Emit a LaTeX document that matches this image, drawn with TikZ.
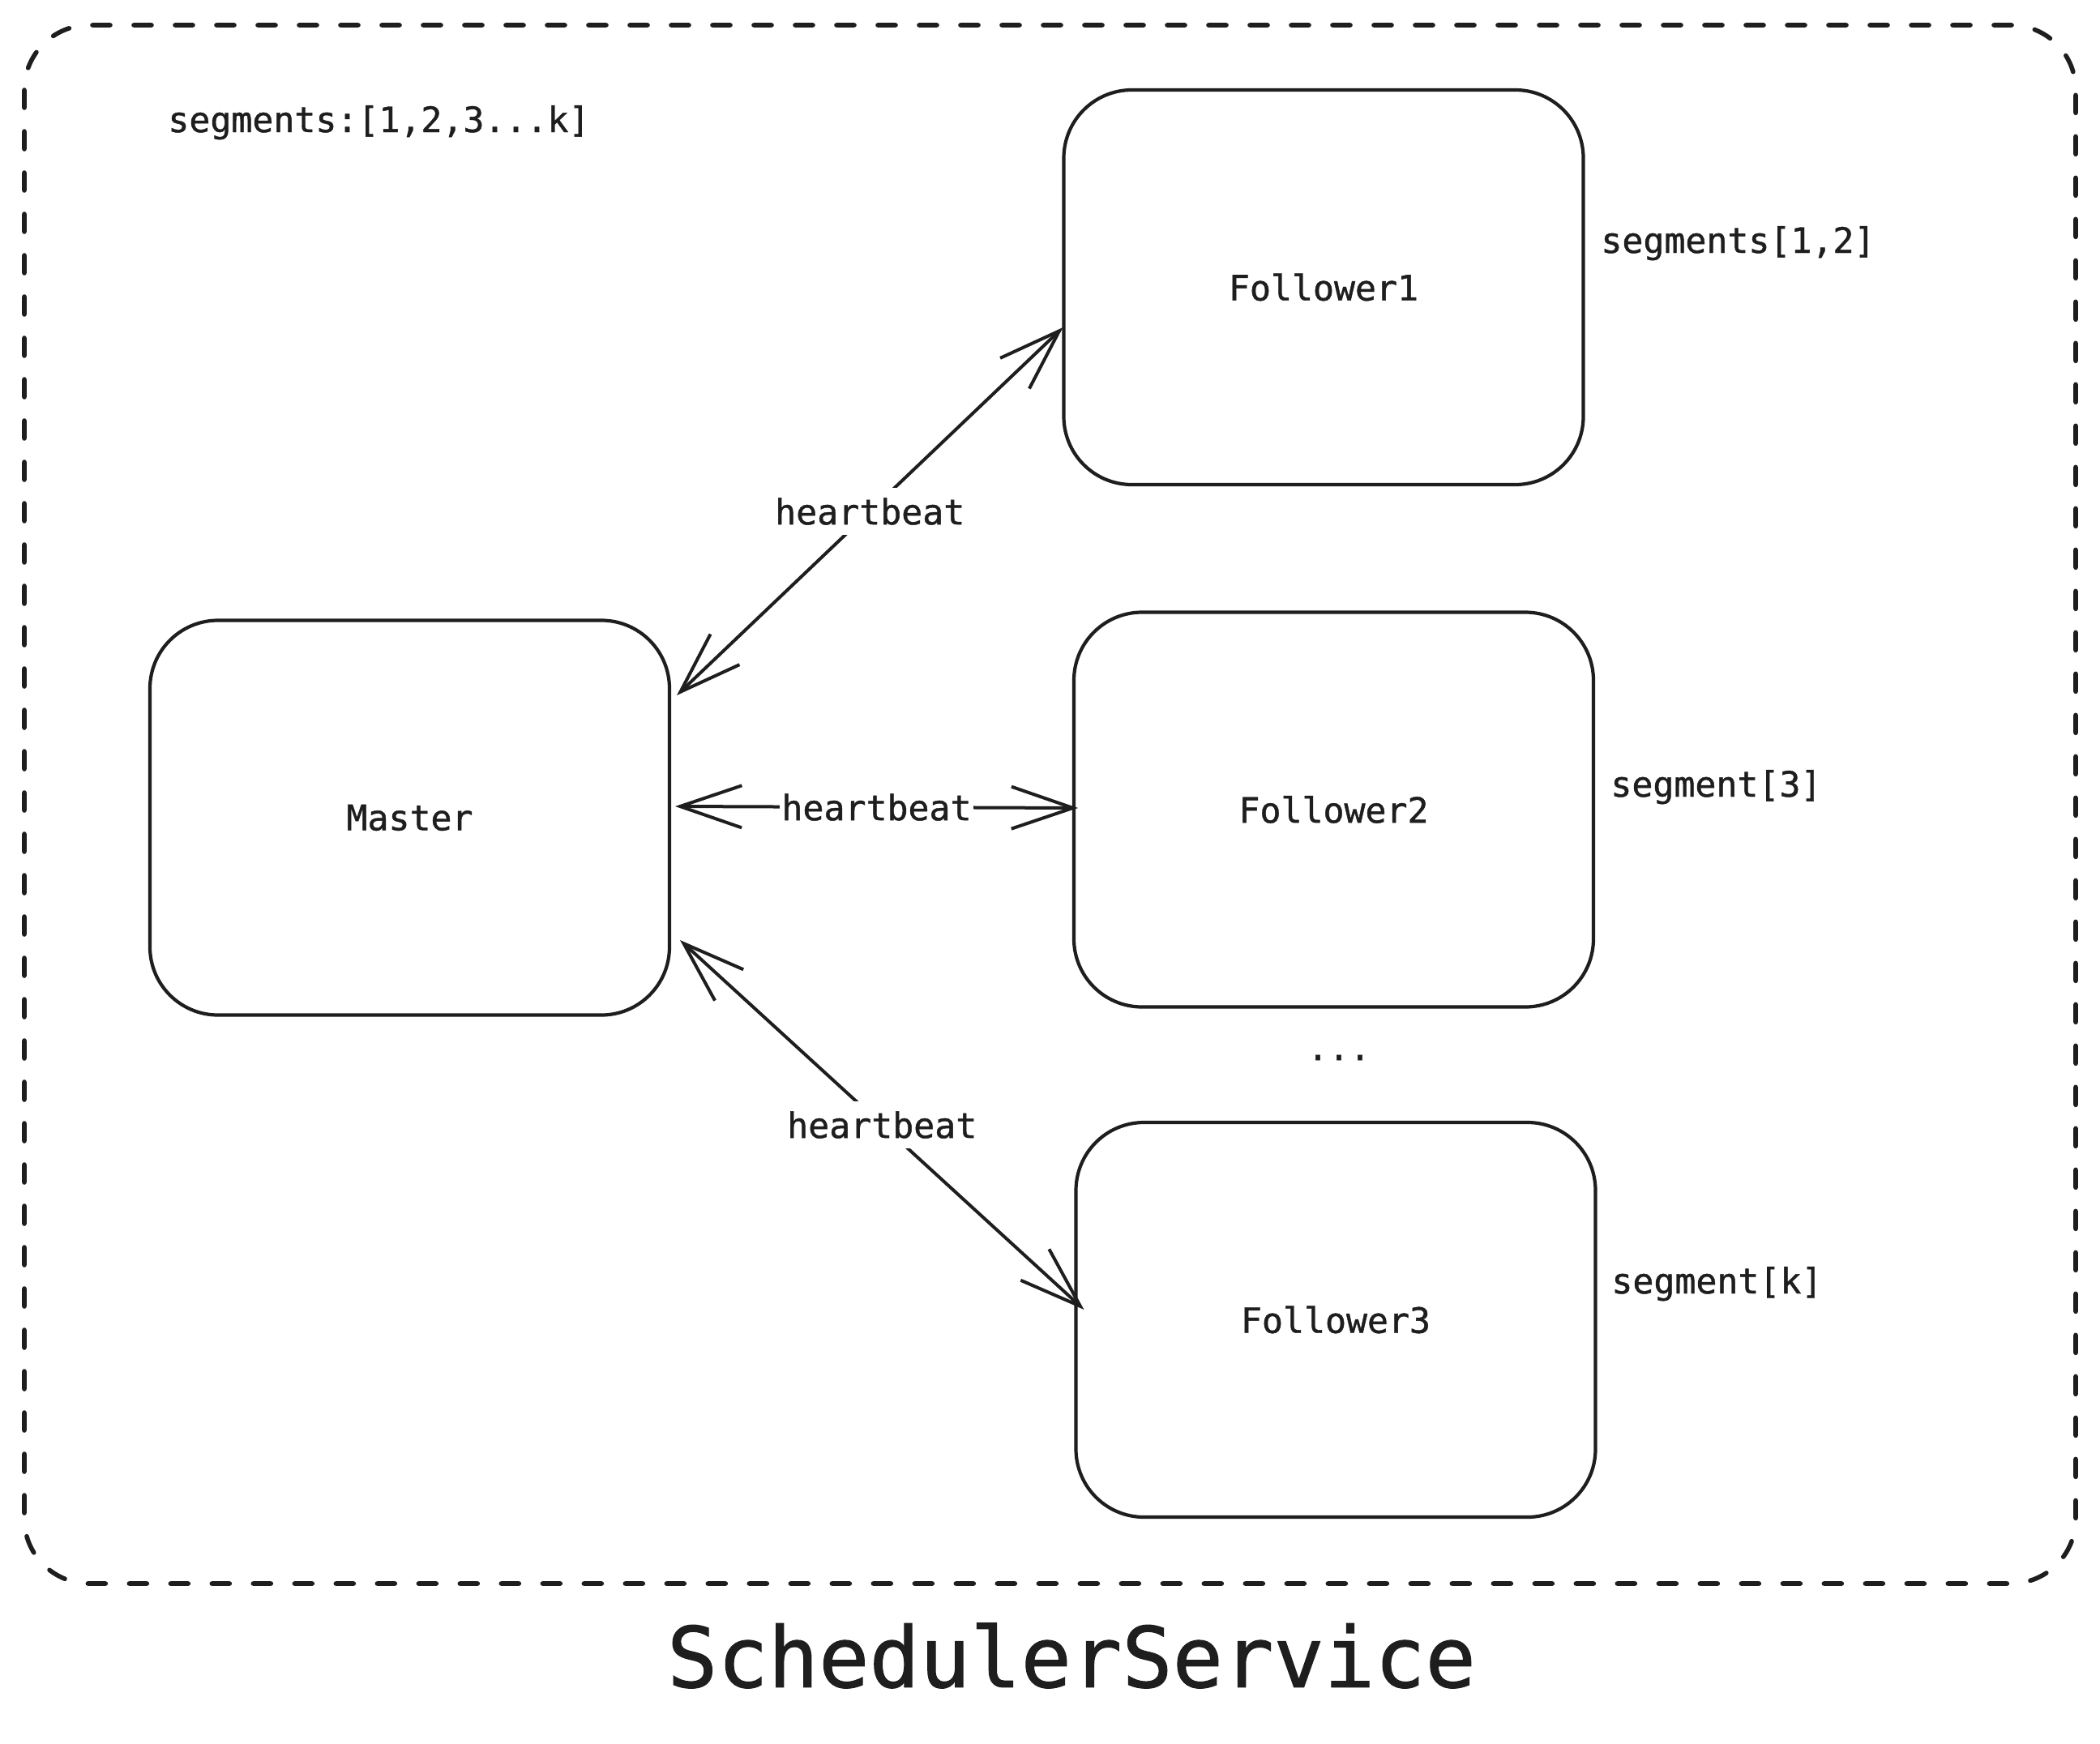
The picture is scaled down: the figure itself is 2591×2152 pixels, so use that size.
\documentclass[tikz,border=0pt]{standalone}
\usepackage{fontspec}
\setmonofont[FakeBold=1]{DejaVu Sans Mono}
\usetikzlibrary{arrows.meta,calc}
\definecolor{ink}{HTML}{1E1E1E}
\begin{document}
\begin{tikzpicture}[x=0.5pt,y=-0.5pt,
  >={Straight Barb[length=38pt,width=26pt]},
  lbl/.style={font=\ttfamily\fontsize{21.6pt}{26pt}\selectfont, text=ink, inner sep=0pt},
  box/.style={draw=ink, line width=2.1pt, rounded corners=42pt, minimum width=320.5pt,
    minimum height=243.5pt, inner sep=0pt, outer sep=0pt, lbl},
  arr/.style={draw=ink, line width=2pt, <->},
  hb/.style={lbl, fill=white, inner xsep=1pt, inner ysep=6pt},
]
\useasboundingbox (0,0) rectangle (2591,2152);
\fill[white] (0,0) rectangle (2591,2152);

% outer service container
\draw[draw=ink, line width=2.8pt, line cap=round, dash pattern=on 11pt off 14.5pt,
  rounded corners=40pt] (30,31) rectangle (2561,1954);
\node[lbl, font=\ttfamily\fontsize{51.8pt}{60pt}\selectfont] (title) at (1322,2043) {SchedulerService};

% nodes
\node[box] (m)  at (505.5,1009)  {Master};
\node[box] (f1) at (1633,354.5)  {Follower1};
\node[box] (f2) at (1645.5,999)  {Follower2};
\node[box] (f3) at (1648,1628.5) {Follower3};

% side labels
\node[lbl, anchor=base west] (segall) at (207,163)  {segments:[1,2,3...k]};
\node[lbl, anchor=base west] (seg1)   at (1975,312) {segments[1,2]};
\node[lbl, anchor=base west] (seg2)   at (1987,983) {segment[3]};
\node[lbl, anchor=base west] (seg3)   at (1988,1596) {segment[k]};
\node[lbl] (dots) at (1652,1305) {...};

% connectors
\draw[arr] ($(m.east)+(9,-151)$) -- node[hb] (h1) {heartbeat} ($(f1.west)+(-1,49.5)$);
\draw[arr] ($(m.east)+(7,-14)$)  -- node[hb] (h2) {heartbeat} ($(f2.west)+(5,-2)$);
\draw[arr] ($(m.east)+(13,151)$) -- node[hb] (h3) {heartbeat} ($(f3.west)+(10,-12.5)$);
\end{tikzpicture}
\end{document}
